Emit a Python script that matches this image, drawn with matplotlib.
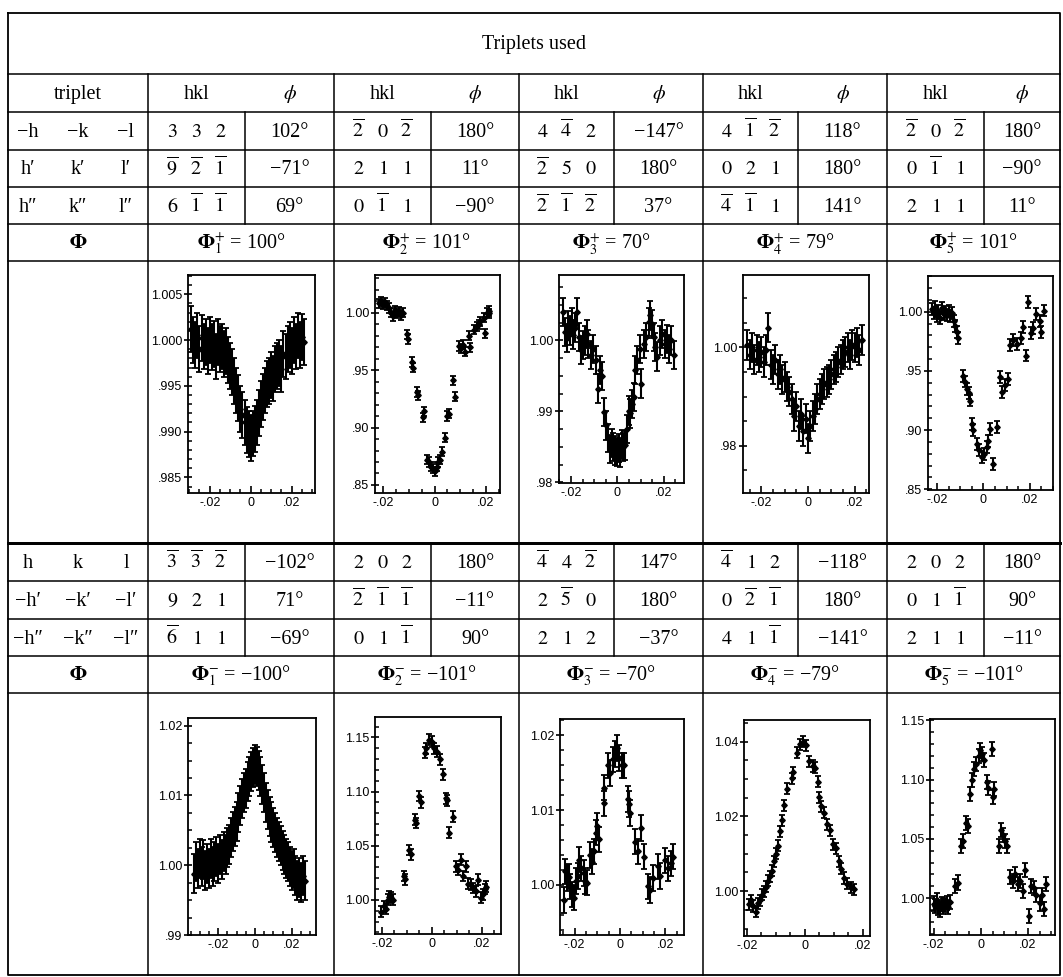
import numpy as np
import matplotlib.pyplot as plt
from matplotlib.lines import Line2D
from matplotlib.ticker import MultipleLocator, FuncFormatter
from matplotlib import font_manager

plt.rcParams['mathtext.fontset'] = 'stix'

# ---- table data ----
top_labels = [['−h', '−k', '−l'], ['h′', 'k′', 'l′'], ['h″', 'k″', 'l″']]
bottom_labels = [['h', 'k', 'l'], ['−h′', '−k′', '−l′'], ['−h″', '−k″', '−l″']]

top_hkl = [
    [(3, 3, 2), (-9, -2, -1), (6, -1, -1)],
    [(-2, 0, -2), (2, 1, 1), (0, -1, 1)],
    [(4, -4, 2), (-2, 5, 0), (-2, -1, -2)],
    [(4, -1, -2), (0, 2, 1), (-4, -1, 1)],
    [(-2, 0, -2), (0, -1, 1), (2, 1, 1)],
]
top_phi = [[102, -71, 69], [180, 11, -90], [-147, 180, 37], [118, 180, 141], [180, -90, 11]]
top_Phi = [100, 101, 70, 79, 101]

bottom_hkl = [
    [(-3, -3, -2), (9, 2, 1), (-6, 1, 1)],
    [(2, 0, 2), (-2, -1, -1), (0, 1, -1)],
    [(-4, 4, -2), (2, -5, 0), (2, 1, 2)],
    [(-4, 1, 2), (0, -2, -1), (4, 1, -1)],
    [(2, 0, 2), (0, 1, -1), (2, 1, 1)],
]
bottom_phi = [[-102, 71, -69], [180, -11, 90], [147, 180, -37], [-118, 180, -141], [180, 90, -11]]
bottom_Phi = [-100, -101, -70, -79, -101]

# ---- scan data (psi offset, normalised intensity) ----
dip1_x = [-0.029, -0.028, -0.027, -0.026, -0.025, -0.024, -0.023, -0.022, -0.021, -0.020,
          -0.019, -0.018, -0.017, -0.016, -0.015, -0.014, -0.013, -0.012, -0.011, -0.010,
          -0.009, -0.008, -0.007, -0.006, -0.005, -0.004, -0.003, -0.002, -0.001, 0.000,
          0.001, 0.002, 0.003, 0.004, 0.005, 0.006, 0.007, 0.008, 0.009, 0.010,
          0.011, 0.012, 0.013, 0.014, 0.015, 0.016, 0.017, 0.018, 0.019, 0.020,
          0.021, 0.022, 0.023, 0.024, 0.025, 0.026]
dip1_y = [1.0012, 1.0000, 0.9995, 1.0005, 0.9990, 1.0002, 0.9993, 0.9998, 0.9988, 1.0000,
          0.9992, 0.9996, 0.9982, 0.9998, 0.9990, 0.9993, 0.9985, 0.9988, 0.9978, 0.9972,
          0.9965, 0.9955, 0.9945, 0.9937, 0.9925, 0.9918, 0.9910, 0.9902, 0.9897, 0.9893,
          0.9898, 0.9903, 0.9910, 0.9920, 0.9930, 0.9938, 0.9945, 0.9952, 0.9955, 0.9962,
          0.9958, 0.9968, 0.9972, 0.9975, 0.9968, 0.9985, 0.9982, 0.9990, 0.9995, 0.9988,
          1.0000, 0.9993, 1.0005, 0.9995, 1.0003, 0.9998]
dip1_err = 0.0025

dip2_x = [-0.0215, -0.0207, -0.0200, -0.0193, -0.0185, -0.0177, -0.0170, -0.0162, -0.0154, -0.0146,
          -0.0138, -0.0130, -0.0122, -0.0108, -0.0103, -0.0088, -0.0084, -0.0067, -0.0063, -0.0046,
          -0.0041, -0.0028, -0.0022, -0.0015, -0.0007, 0.0000, 0.0008, 0.0015, 0.0022, 0.0030,
          0.0039, 0.0050, 0.0056, 0.0072, 0.0080, 0.0094, 0.0102, 0.0110, 0.0118, 0.0133,
          0.0139, 0.0152, 0.0165, 0.0172, 0.0178, 0.0191, 0.0195, 0.0205, 0.0212, 0.0214]
dip2_y = [1.008, 1.010, 1.007, 1.009, 1.006, 1.004, 1.000, 0.997, 1.002, 0.999,
          1.001, 0.998, 1.000, 0.981, 0.977, 0.957, 0.952, 0.931, 0.928, 0.909,
          0.914, 0.872, 0.870, 0.866, 0.864, 0.862, 0.866, 0.870, 0.872, 0.879,
          0.891, 0.910, 0.912, 0.941, 0.927, 0.971, 0.969, 0.972, 0.966, 0.980,
          0.970, 0.985, 0.988, 0.990, 0.9925, 0.9955, 0.982, 1.000, 1.0015, 0.9995]
dip2_err = 0.004

dip3_x = [-0.0235, -0.0225, -0.0218, -0.0213, -0.0205, -0.0197, -0.0190, -0.0182, -0.0174, -0.0166,
          -0.0159, -0.0150, -0.0140, -0.0133, -0.0126, -0.0116, -0.0104, -0.0093, -0.0083, -0.0076,
          -0.0068, -0.0058, -0.0049, -0.0039, -0.0032, -0.0025, -0.0017, -0.0010, -0.0003, 0.0005,
          0.0012, 0.0018, 0.0023, 0.0033, 0.0040, 0.0048, 0.0055, 0.0063, 0.0070, 0.0077,
          0.0084, 0.0096, 0.0102, 0.0113, 0.0125, 0.0135, 0.0142, 0.0149, 0.0157, 0.0164,
          0.0171, 0.0183, 0.0193, 0.0203, 0.0215, 0.0222, 0.0232, 0.0243]
dip3_y = [1.0040, 1.0012, 1.0003, 1.0021, 1.0014, 1.0026, 1.0008, 1.0018, 1.0040, 1.0005,
          0.9986, 0.9993, 1.0000, 1.0009, 0.9995, 0.9979, 0.9988, 0.9972, 0.9932, 0.9958,
          0.9950, 0.9899, 0.9880, 0.9862, 0.9847, 0.9855, 0.9850, 0.9845, 0.9843, 0.9848,
          0.9842, 0.9853, 0.9850, 0.9852, 0.9875, 0.9901, 0.9897, 0.9910, 0.9920, 0.9958,
          0.9972, 0.9988, 0.9939, 0.9995, 1.0005, 1.0026, 1.0035, 1.0023, 1.0005, 0.9991,
          0.9977, 1.0000, 1.0009, 0.9995, 1.0002, 0.9988, 1.0000, 0.9979]
dip3_err = 0.002

dip4_x = [-0.026, -0.025, -0.024, -0.023, -0.022, -0.021, -0.020, -0.019, -0.018, -0.017,
          -0.016, -0.015, -0.014, -0.013, -0.012, -0.011, -0.010, -0.009, -0.008, -0.007,
          -0.006, -0.005, -0.004, -0.003, -0.002, -0.001, 0.000, 0.001, 0.002, 0.003,
          0.004, 0.005, 0.006, 0.007, 0.008, 0.009, 0.010, 0.011, 0.012, 0.013,
          0.014, 0.015, 0.016, 0.017, 0.018, 0.019, 0.020, 0.021, 0.022, 0.023]
dip4_y = [1.0005, 0.9985, 1.0000, 0.9975, 0.9995, 0.9980, 0.9990, 0.9970, 0.9995, 1.0040,
          0.9965, 0.9955, 0.9975, 0.9945, 0.9955, 0.9935, 0.9940, 0.9920, 0.9910, 0.9895,
          0.9860, 0.9880, 0.9840, 0.9865, 0.9830, 0.9855, 0.9815, 0.9840, 0.9860, 0.9875,
          0.9895, 0.9905, 0.9915, 0.9925, 0.9930, 0.9935, 0.9945, 0.9955, 0.9960, 0.9970,
          0.9975, 0.9985, 0.9990, 1.0000, 0.9985, 1.0005, 1.0000, 1.0010, 0.9995, 1.0015]
dip4_err = 0.003

dip5_x = [-0.0222, -0.0215, -0.0208, -0.0201, -0.0194, -0.0187, -0.0180, -0.0172, -0.0165, -0.0158,
          -0.0150, -0.0143, -0.0136, -0.0128, -0.0122, -0.0115, -0.0108, -0.0090, -0.0081, -0.0071,
          -0.0064, -0.0057, -0.0050, -0.0043, -0.0029, -0.0019, -0.0007, 0.0004, 0.0014, 0.0021,
          0.0029, 0.0043, 0.0057, 0.0071, 0.0081, 0.0093, 0.0107, 0.0114, 0.0129, 0.0143,
          0.0160, 0.0171, 0.0183, 0.0193, 0.0203, 0.0214, 0.0228, 0.0243, 0.0250, 0.0260]
dip5_y = [1.002, 0.999, 1.004, 0.996, 1.001, 0.995, 1.003, 0.998, 1.000, 0.997,
          1.001, 0.996, 0.999, 0.992, 0.988, 0.983, 0.978, 0.946, 0.941, 0.935,
          0.931, 0.925, 0.905, 0.900, 0.8885, 0.883, 0.877, 0.880, 0.886, 0.891,
          0.901, 0.8715, 0.9026, 0.945, 0.932, 0.938, 0.943, 0.972, 0.976, 0.973,
          0.978, 0.987, 0.963, 1.008, 0.982, 0.986, 0.998, 0.992, 0.983, 1.001]
dip5_err = 0.005

peak1_x = [-0.033, -0.032, -0.031, -0.030, -0.029, -0.028, -0.027, -0.026, -0.025, -0.024,
           -0.023, -0.022, -0.021, -0.020, -0.019, -0.018, -0.017, -0.016, -0.015, -0.014,
           -0.013, -0.012, -0.011, -0.010, -0.009, -0.008, -0.007, -0.006, -0.005, -0.004,
           -0.003, -0.002, -0.001, 0.000, 0.001, 0.002, 0.003, 0.004, 0.005, 0.006,
           0.007, 0.008, 0.009, 0.010, 0.011, 0.012, 0.013, 0.014, 0.015, 0.016,
           0.017, 0.018, 0.019, 0.020, 0.021, 0.022, 0.023, 0.024, 0.025, 0.026, 0.027]
peak1_y = [0.9988, 1.0005, 0.9995, 1.0010, 0.9998, 1.0008, 0.9992, 1.0003, 0.9995, 1.0010,
           0.9998, 1.0005, 1.0012, 1.0002, 1.0015, 1.0008, 1.0020, 1.0016, 1.0026, 1.0030,
           1.0040, 1.0048, 1.0055, 1.0063, 1.0075, 1.0086, 1.0095, 1.0104, 1.0110, 1.0120,
           1.0127, 1.0134, 1.0140, 1.0145, 1.0142, 1.0136, 1.0127, 1.0116, 1.0104, 1.0090,
           1.0080, 1.0070, 1.0062, 1.0054, 1.0047, 1.0040, 1.0034, 1.0028, 1.0021, 1.0015,
           1.0010, 1.0005, 0.9998, 0.9992, 0.9995, 0.9985, 0.9978, 0.9982, 0.9975, 0.9985, 0.9978]
peak1_err = 0.0028

peak2_x = [-0.0203, -0.0190, -0.0183, -0.0177, -0.0170, -0.0163, -0.0157, -0.0110, -0.0107, -0.0090,
           -0.0085, -0.0066, -0.0063, -0.0050, -0.0045, -0.0028, -0.0024, -0.0010, 0.0000, 0.0010,
           0.0019, 0.0032, 0.0043, 0.0056, 0.0060, 0.0070, 0.0083, 0.0096, 0.0103, 0.0116,
           0.0125, 0.0135, 0.0144, 0.0156, 0.0165, 0.0175, 0.0183, 0.0195, 0.0205, 0.0213, 0.0217]
peak2_y = [0.989, 0.994, 0.992, 1.000, 1.003, 1.002, 1.000, 1.022, 1.019, 1.046,
           1.042, 1.074, 1.071, 1.096, 1.090, 1.136, 1.140, 1.148, 1.146, 1.140,
           1.137, 1.130, 1.116, 1.094, 1.092, 1.062, 1.077, 1.031, 1.028, 1.037,
           1.022, 1.031, 1.015, 1.014, 1.011, 1.008, 1.0185, 1.002, 1.005, 1.010, 1.012]
peak2_err = 0.005

peak3_x = [-0.0248, -0.0240, -0.0232, -0.0225, -0.0218, -0.0210, -0.0203, -0.0195, -0.0185, -0.0178,
           -0.0170, -0.0160, -0.0154, -0.0145, -0.0133, -0.0125, -0.0114, -0.0105, -0.0099, -0.0093,
           -0.0072, -0.0068, -0.0053, -0.0042, -0.0031, -0.0022, -0.0012, -0.0004, 0.0009, 0.0019,
           0.0034, 0.0041, 0.0046, 0.0068, 0.0079, 0.0093, 0.0107, 0.0123, 0.0133, 0.0145,
           0.0168, 0.0178, 0.0197, 0.0212, 0.0227, 0.0234]
peak3_y = [0.9980, 1.0018, 1.0009, 1.0011, 0.9998, 0.9987, 0.9983, 1.0005, 1.0012, 1.0034,
           1.0022, 1.0016, 1.0005, 1.0003, 1.0040, 1.0031, 1.0045, 1.0070, 1.0079, 1.0061,
           1.0109, 1.0130, 1.0160, 1.0150, 1.0168, 1.0175, 1.0183, 1.0170, 1.0160, 1.0160,
           1.0115, 1.0108, 1.0096, 1.0058, 1.0045, 1.0076, 1.0038, 0.9998, 0.9993, 1.0009,
           1.0025, 1.0012, 1.0033, 1.0022, 1.0029, 1.0038]
peak3_err = 0.0017

peak4_x = [-0.0193, -0.0186, -0.0178, -0.0170, -0.0163, -0.0156, -0.0148, -0.0141, -0.0134, -0.0127,
           -0.0120, -0.0113, -0.0106, -0.0099, -0.0092, -0.0085, -0.0078, -0.0071, -0.0062, -0.0045,
           -0.0041, -0.0027, -0.0015, -0.0005, 0.0003, 0.0015, 0.0027, 0.0034, 0.0044, 0.0050,
           0.0057, 0.0066, 0.0075, 0.0086, 0.0098, 0.0106, 0.0117, 0.0126, 0.0135, 0.0147,
           0.0158, 0.0170]
peak4_y = [0.9965, 0.9975, 0.9960, 0.9945, 0.9968, 0.9975, 0.9990, 1.0000, 1.0012, 1.0028,
           1.0040, 1.0055, 1.0080, 1.0100, 1.0122, 1.0160, 1.0190, 1.0230, 1.0274, 1.0302,
           1.0318, 1.0370, 1.0393, 1.0400, 1.0390, 1.0347, 1.0335, 1.0330, 1.0293, 1.0251,
           1.0227, 1.0210, 1.0179, 1.0163, 1.0125, 1.0115, 1.0080, 1.0060, 1.0035, 1.0020,
           1.0010, 1.0005]
peak4_err = 0.0015

peak5_x = [-0.0199, -0.0192, -0.0186, -0.0179, -0.0172, -0.0165, -0.0158, -0.0151, -0.0144, -0.0137,
           -0.0130, -0.0110, -0.0098, -0.0084, -0.0074, -0.0063, -0.0055, -0.0045, -0.0039, -0.0030,
           -0.0022, -0.0008, -0.0003, 0.0005, 0.0013, 0.0028, 0.0033, 0.0046, 0.0050, 0.0058,
           0.0077, 0.0084, 0.0095, 0.0105, 0.0112, 0.0126, 0.0137, 0.0147, 0.0157, 0.0168,
           0.0179, 0.0189, 0.0203, 0.0213, 0.0225, 0.0236, 0.0250, 0.0260, 0.0270, 0.0278]
peak5_y = [0.9955, 0.9935, 0.9985, 0.9920, 0.9905, 0.9950, 0.9930, 0.9945, 0.9960, 0.9925,
           0.9970, 1.0103, 1.0132, 1.0441, 1.0485, 1.0632, 1.0607, 1.0876, 1.0994, 1.1088,
           1.1128, 1.1200, 1.1250, 1.1215, 1.1165, 1.0979, 1.0930, 1.1256, 1.0850, 1.0920,
           1.0441, 1.0573, 1.0530, 1.0485, 1.0441, 1.0176, 1.0147, 1.0206, 1.0118, 1.0147,
           1.0059, 1.0235, 0.9853, 1.0103, 1.0088, 1.0029, 0.9956, 1.0029, 0.9912, 1.0118]
peak5_err = 0.006

# ---- page geometry (pixels, y from top) ----
W, H = 1063, 977
fig = plt.figure(figsize=(W / 100, H / 100), dpi=100)


def fx(px):
    return px / W


def fy(py):
    return 1 - py / H


def line(xs, ys, lw=1.1):
    fig.add_artist(Line2D([fx(v) for v in xs], [fy(v) for v in ys], color='black', lw=lw))


L, R, T, B = 8, 1060, 13, 975
group_edges = [148, 334, 519, 703, 887, 1060]
inner_edges = [245, 431, 614, 798, 984]
top_rows = [74, 112, 150, 187, 224, 261, 543]
bot_rows = [543, 581, 619, 656, 693]

line([L, R, R, L, L], [T, T, B, B, T], lw=1.3)
for y in top_rows + bot_rows:
    line([L, R], [y, y], lw=2.0 if y == 543 else 1.1)
for x in group_edges[:-1]:
    line([x, x], [74, B])
for x in inner_edges:
    line([x, x], [112, 224])
    line([x, x], [543, 656])

serif = ['Liberation Serif', 'DejaVu Serif']
FS = 14.5


def put(x, y, s, **kw):
    fig.text(fx(x), fy(y), s, ha='center', va='baseline', fontsize=FS, family=serif, **kw)


def deg(v):
    return ('−' if v < 0 else '') + f'{abs(v)}°'


def idx(v):
    return r'$\overline{%d}$' % abs(v) if v < 0 else r'$%d$' % v


put((L + R) / 2, 49, 'Triplets used')
put(78, 99, 'triplet')
for g in range(5):
    put((group_edges[g] + inner_edges[g]) / 2, 99, 'hkl')
    put((inner_edges[g] + group_edges[g + 1]) / 2, 99, r'$\phi$')

label_x = [28, 78, 126]


def fill_rows(row_edges, labels, hkl, phi, Phi, sign):
    for r in range(3):
        yb = (row_edges[r] + row_edges[r + 1]) / 2 + 6
        for k in range(3):
            put(label_x[k], yb, labels[r][k])
        for g in range(5):
            cx = (group_edges[g] + inner_edges[g]) / 2
            for k, v in enumerate(hkl[g][r]):
                put(cx + (k - 1) * 24, yb, idx(v))
            put((inner_edges[g] + group_edges[g + 1]) / 2, yb, deg(phi[g][r]))
    yb = (row_edges[3] + row_edges[4]) / 2 + 6
    put(78, yb, r'$\mathbf{\Phi}$')
    for g in range(5):
        put((group_edges[g] + group_edges[g + 1]) / 2, yb,
            r'$\mathbf{\Phi}_{%d}^{%s}$ = %s' % (g + 1, sign, deg(Phi[g])))


fill_rows(top_rows[1:], top_labels, top_hkl, top_phi, top_Phi, '+')
fill_rows(bot_rows, bottom_labels, bottom_hkl, bottom_phi, bottom_Phi, '-')

# ---- scan panels ----
installed = {f.name for f in font_manager.fontManager.ttflist}
tick_family = 'Liberation Sans Narrow' if 'Liberation Sans Narrow' in installed else 'Liberation Sans'

scans = [
    (dip1_x, dip1_y, dip1_err), (dip2_x, dip2_y, dip2_err), (dip3_x, dip3_y, dip3_err),
    (dip4_x, dip4_y, dip4_err), (dip5_x, dip5_y, dip5_err),
    (peak1_x, peak1_y, peak1_err), (peak2_x, peak2_y, peak2_err), (peak3_x, peak3_y, peak3_err),
    (peak4_x, peak4_y, peak4_err), (peak5_x, peak5_y, peak5_err),
]
boxes = [(188, 315, 275, 493), (375, 500, 275, 493), (559, 684, 275, 483),
         (743, 869, 275, 493), (928, 1053, 276, 490),
         (188, 316, 718, 935), (375, 501, 717, 934), (560, 684, 719, 935),
         (744, 870, 720, 936), (930, 1055, 719, 935)]
xlims = [(-0.0306, 0.0314), (-0.0232, 0.0255), (-0.0252, 0.0287), (-0.0279, 0.0261), (-0.0239, 0.030),
         (-0.0364, 0.0332), (-0.0227, 0.0276), (-0.0264, 0.0283), (-0.021, 0.0225), (-0.0215, 0.0315)]
ylims = [(0.9833, 1.0071), (0.843, 1.0328), (0.9799, 1.0092), (0.9704, 1.0147), (0.8494, 1.0302),
         (0.99, 1.0211), (0.9685, 1.1689), (0.9933, 1.0222), (0.988, 1.0458), (0.969, 1.151)]
ysteps = [(0.005, 0.001, 3), (0.05, 0.01, 2), (0.01, 0.0025, 2), (0.02, 0.005, 2), (0.05, 0.01, 2),
          (0.01, 0.0025, 2), (0.05, 0.01, 2), (0.01, 0.002, 2), (0.02, 0.005, 2), (0.05, 0.01, 2)]


def short(v, nd):
    s = f'{v:.{nd}f}'
    if abs(v) < 1e-9:
        return '0'
    if s.startswith('0.'):
        return s[1:]
    if s.startswith('-0.'):
        return '-' + s[2:]
    return s


for i, (xs, ys, e) in enumerate(scans):
    l, r, t, b = boxes[i]
    ax = fig.add_axes([fx(l), fy(b), (r - l) / W, (b - t) / H])
    ax.errorbar(xs, ys, yerr=e, fmt='D', ms=2.8, mfc='black', mec='black', ecolor='black',
                elinewidth=1.5, capsize=2.3, capthick=1.3)
    ax.set_xlim(*xlims[i])
    ax.set_ylim(*ylims[i])
    major, minor, nd = ysteps[i]
    ax.yaxis.set_major_locator(MultipleLocator(major))
    ax.yaxis.set_minor_locator(MultipleLocator(minor))
    ax.yaxis.set_major_formatter(FuncFormatter(lambda v, p, nd=nd: short(v, nd)))
    ax.xaxis.set_major_locator(MultipleLocator(0.02))
    ax.xaxis.set_minor_locator(MultipleLocator(0.005))
    ax.xaxis.set_major_formatter(FuncFormatter(lambda v, p: short(v, 2)))
    ax.tick_params(axis='y', which='major', direction='inout', length=6, width=1.2, pad=1)
    ax.tick_params(axis='y', which='minor', direction='in', length=3, width=1.1)
    ax.tick_params(axis='x', which='major', direction='in', length=5, width=1.2, pad=3)
    ax.tick_params(axis='x', which='minor', direction='in', length=3, width=1.1)
    for lab in ax.get_xticklabels() + ax.get_yticklabels():
        lab.set_family(tick_family)
        lab.set_fontsize(9)
    for sp in ax.spines.values():
        sp.set_linewidth(1.3)

fig.savefig('out.png', dpi=100)
